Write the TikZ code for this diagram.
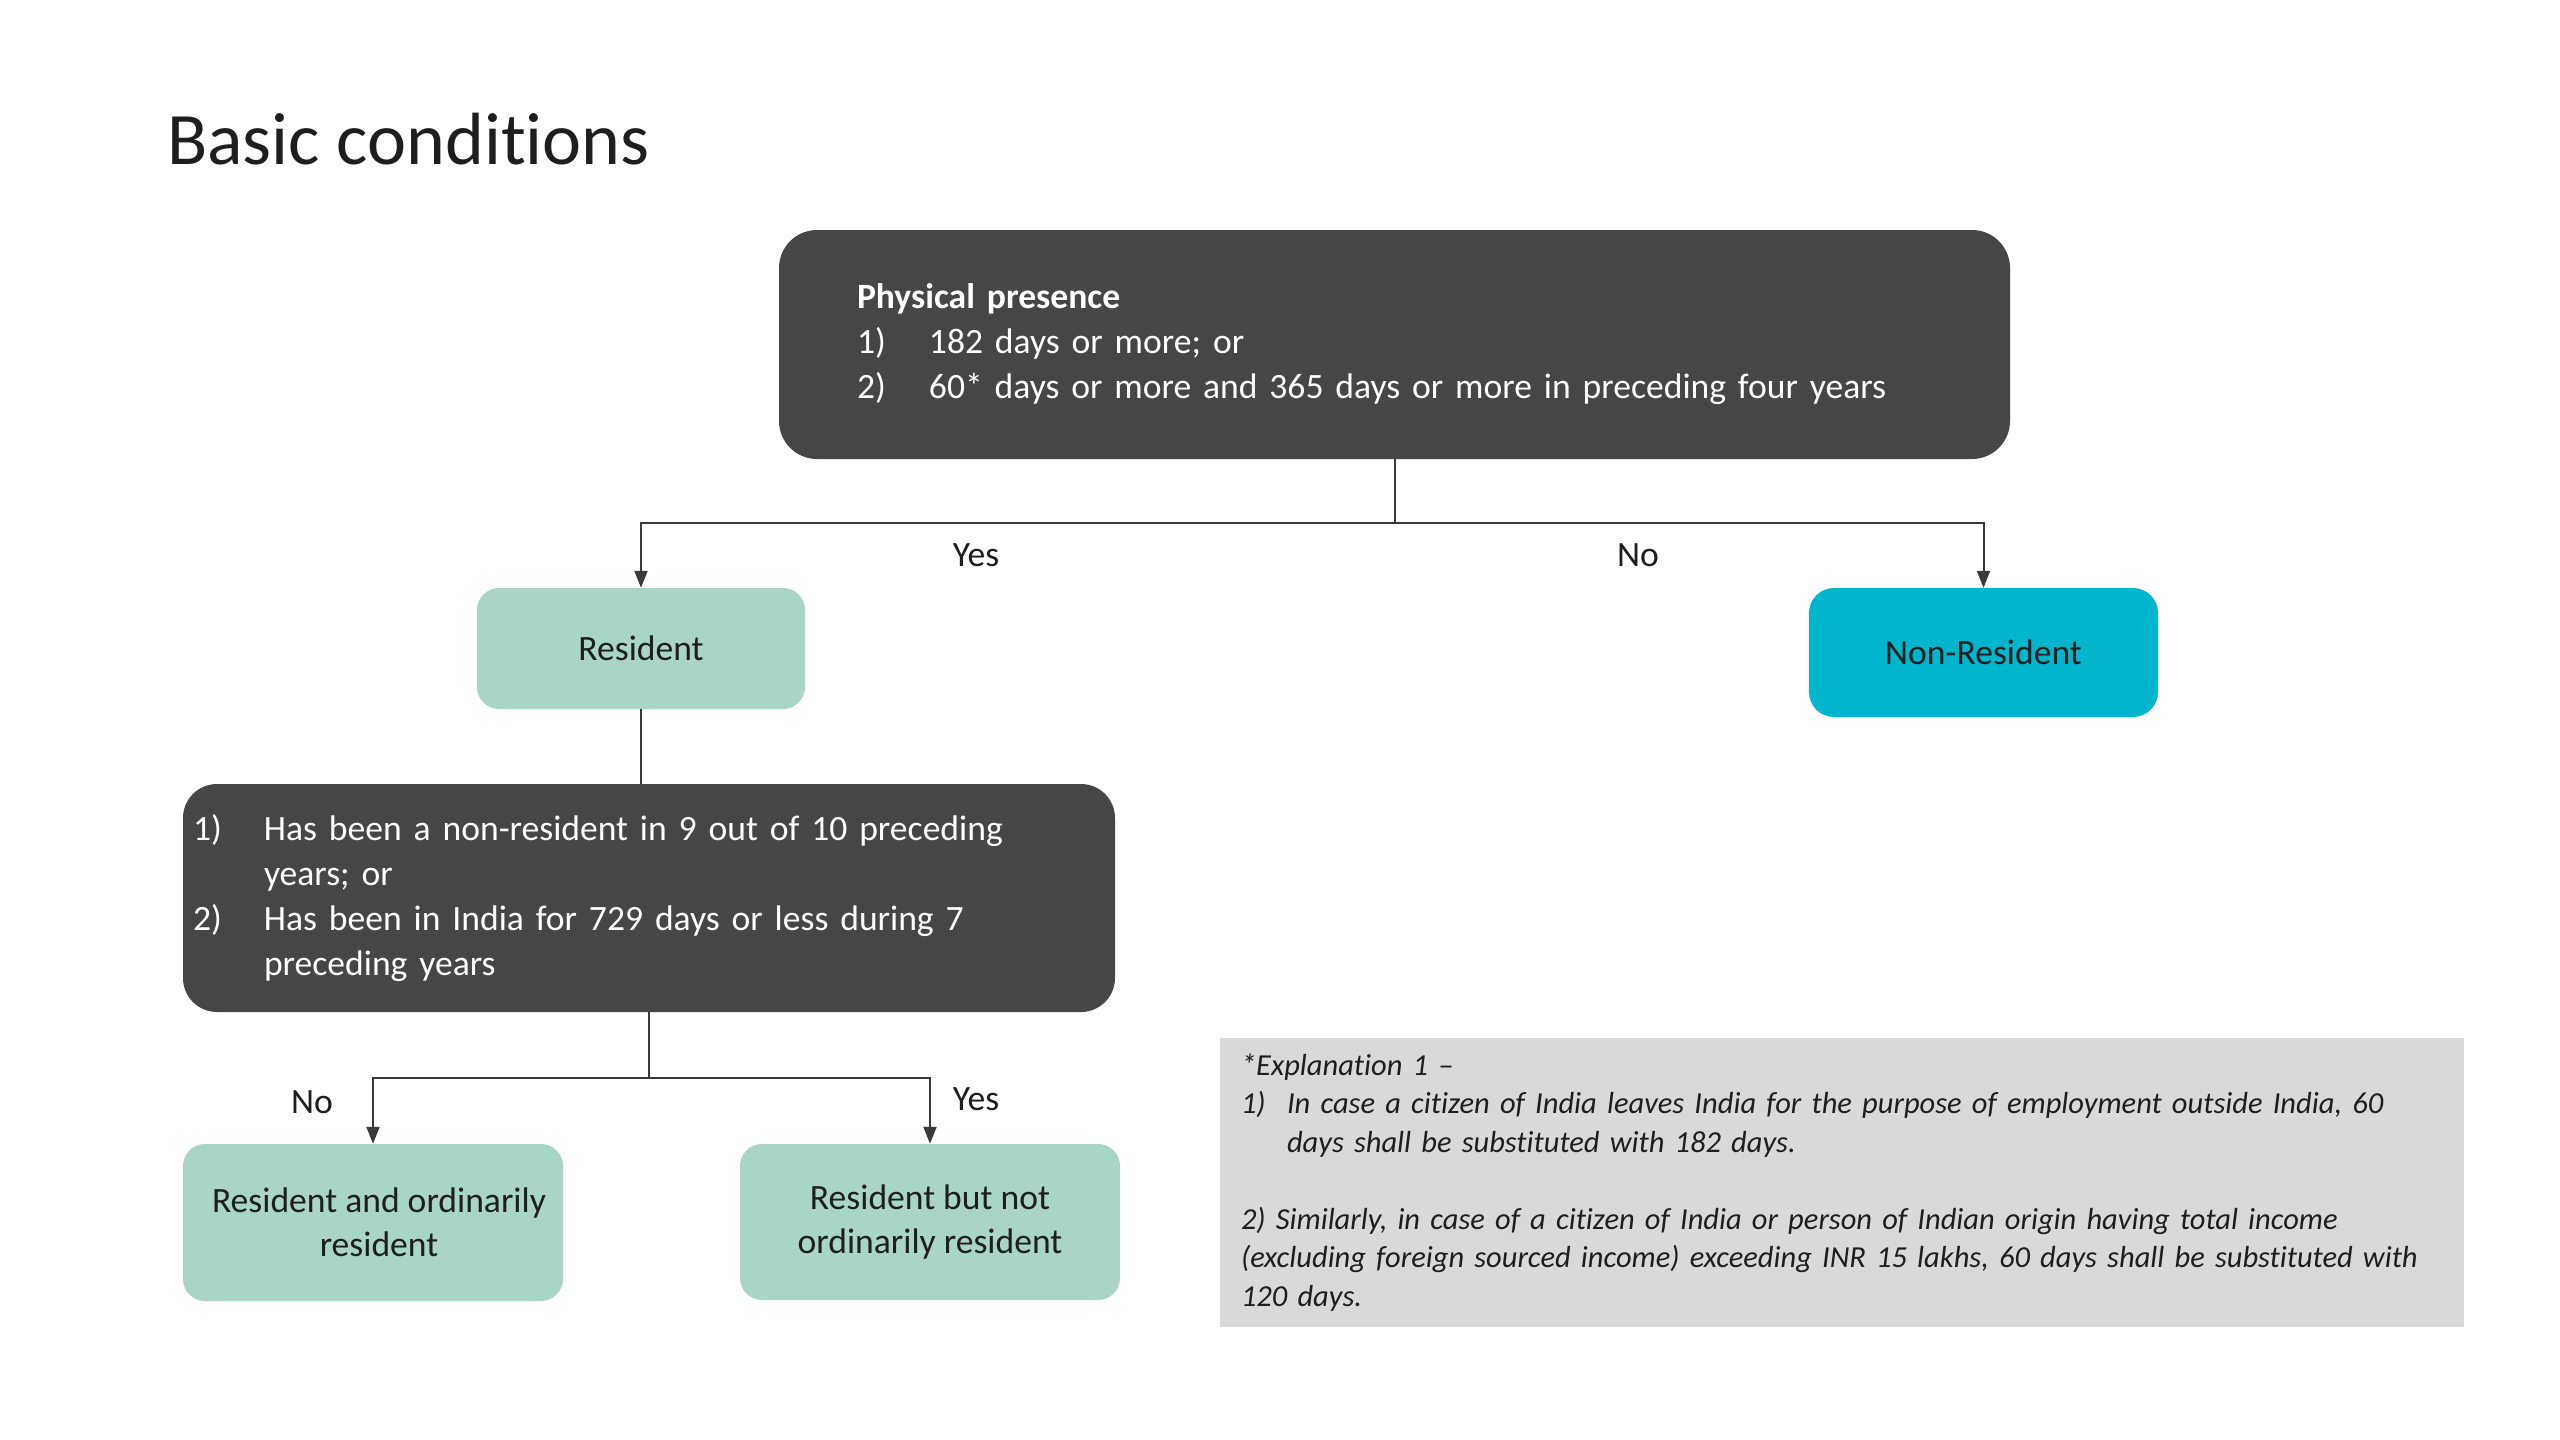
\documentclass[tikz,border=0pt]{standalone}
\usepackage{fontspec}
\setmainfont{Carlito}[Ligatures=NoCommon]
\usetikzlibrary{arrows.meta}
\definecolor{darkbox}{HTML}{464646}
\definecolor{resgreen}{HTML}{A9D5C7}
\definecolor{nrcyan}{HTML}{00B5CC}
\definecolor{notegray}{HTML}{D9D9D9}
\definecolor{ink}{HTML}{1E1E1E}
\definecolor{wirecol}{HTML}{3A3A3A}
\begin{document}
\begin{tikzpicture}[x=1pt,y=-1pt,
  darknode/.style={fill=darkbox, text=white, rounded corners=38pt, align=left,
    font=\fontsize{35.6}{45}\selectfont, inner sep=0pt},
  greennode/.style={fill=resgreen, text=ink, rounded corners=22pt, align=center,
    font=\fontsize{35.6}{44}\selectfont, inner sep=0pt},
  cyannode/.style={fill=nrcyan, text=ink, rounded corners=25pt, align=center,
    font=\fontsize{35.6}{44}\selectfont, inner sep=0pt},
  notenode/.style={fill=notegray, text=ink, align=left,
    font=\fontsize{30.5}{38.5}\selectfont\itshape, inner sep=0pt},
  wire/.style={draw=wirecol, line width=2pt},
  arrowwire/.style={wire, -{Triangle[length=17pt,width=13pt]}},
  lbl/.style={text=ink, font=\fontsize{35.6}{45}\selectfont, inner sep=0pt},
  titlestyle/.style={text=ink, font=\fontsize{74}{90}\selectfont, inner sep=0pt, anchor=west}
]
\useasboundingbox[fill=white] (0,0) rectangle (2560,1440);

\node[titlestyle] (title) at (167,139) {Basic conditions};

\node[darknode, minimum width=1231pt, minimum height=229pt, text width=1075pt] (top) at (1394.5,344.5)
{\textbf{Physical presence}\\
\makebox[72pt][l]{1)}182 days or more; or\\
\makebox[72pt][l]{2)}60* days or more and 365 days or more in preceding four years};

\node[greennode, minimum width=328pt, minimum height=121pt] (res) at (641,648.5) {Resident};
\node[cyannode, minimum width=349pt, minimum height=129pt] (nr) at (1983.5,652.5) {Non-Resident};

\node[darknode, rounded corners=34pt, minimum width=932pt, minimum height=228pt, text width=912pt] (cond) at (649,898)
{\makebox[71pt][l]{1)}Has been a non-resident in 9 out of 10 preceding\\
\hspace*{71pt}years; or\\
\makebox[71pt][l]{2)}Has been in India for 729 days or less during 7\\
\hspace*{71pt}preceding years};

\node[greennode, minimum width=380pt, minimum height=157pt] (raor) at (373,1222.5) {\hspace*{12pt}Resident and ordinarily\\\hspace*{12pt}resident};
\node[greennode, minimum width=380pt, minimum height=156pt] (rnor) at (930,1222) {Resident but not\\ordinarily resident};

\node[notenode, minimum width=1244pt, minimum height=289pt, text width=1202pt] (note) at (1842,1182.5)
{*Explanation 1 --\\
\makebox[46pt][l]{1)}In case a citizen of India leaves India for the purpose of employment outside India, 60\\
\hspace*{46pt}days shall be substituted with 182 days.\\
\mbox{}\\
2) Similarly, in case of a citizen of India or person of Indian origin having total income\\
(excluding foreign sourced income) exceeding INR 15 lakhs, 60 days shall be substituted with\\
120 days.};

\coordinate (ysplit1) at (0,523);
\coordinate (ysplit2) at (0,1078);

\draw[wire] (top.south) -- (top.south |- ysplit1) coordinate (j1);
\draw[arrowwire] (j1) -| (res.north);
\draw[arrowwire] (j1) -| (nr.north);

\draw[wire] (res.south) -- (res.south |- cond.north);

\draw[wire] (cond.south) -- (cond.south |- ysplit2) coordinate (j2);
\draw[arrowwire] (j2) -| (raor.north);
\draw[arrowwire] (j2) -| (rnor.north);

\node[lbl] (yes1) at (976,555) {Yes};
\node[lbl] (no1) at (1638,555) {No};
\node[lbl] (no2) at (312,1102) {No};
\node[lbl] (yes2) at (976,1099) {Yes};
\end{tikzpicture}
\end{document}
